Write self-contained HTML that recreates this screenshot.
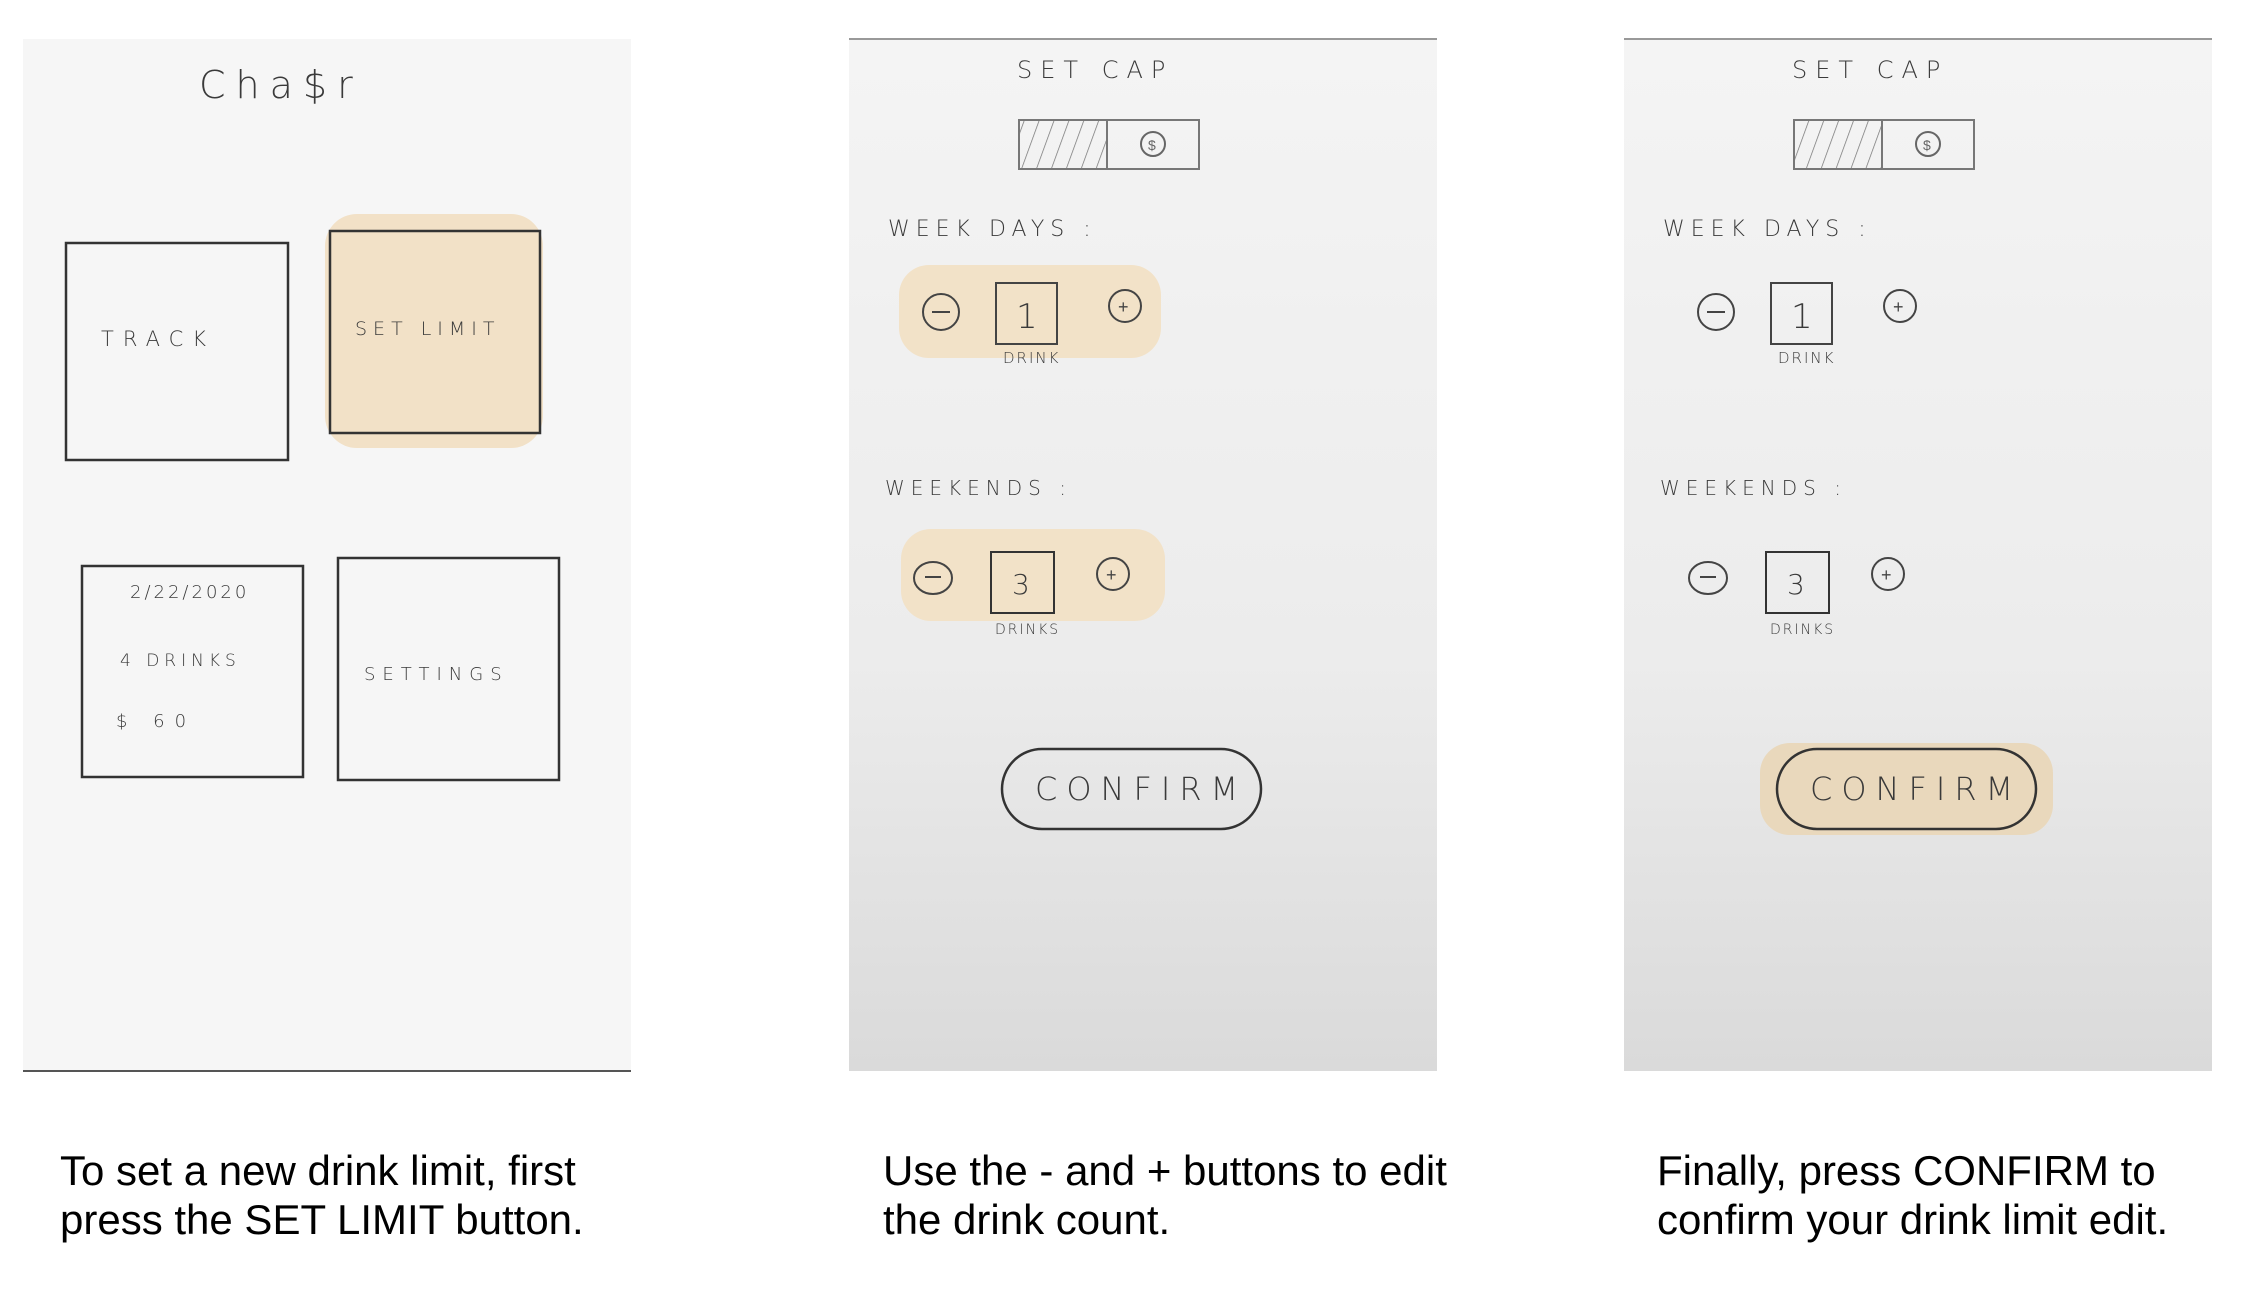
<!DOCTYPE html>
<html><head><meta charset="utf-8"><style>
html,body{margin:0;padding:0;background:#fff;}
body{width:2254px;height:1294px;position:relative;overflow:hidden;font-family:"Liberation Sans",sans-serif;}
svg{position:absolute;left:0;top:0;}
.cap{position:absolute;font-size:42px;line-height:49px;color:#000;white-space:nowrap;}
.hw{font-family:"DejaVu Sans",sans-serif;fill:#3a3a3a;font-weight:300;}
</style></head><body>
<svg width="2254" height="1294" viewBox="0 0 2254 1294">
<defs>
<linearGradient id="pg" x1="0" y1="0" x2="0" y2="1"><stop offset="0" stop-color="#f4f4f4"/><stop offset="0.6" stop-color="#ececec"/><stop offset="1" stop-color="#dadada"/></linearGradient>
<pattern id="hatch" width="14" height="14" patternUnits="userSpaceOnUse" patternTransform="rotate(20)"><line x1="0" y1="0" x2="0" y2="14" stroke="#777" stroke-width="1.5"/></pattern>
</defs>
<g>
<rect x="23" y="39" width="608" height="1032" fill="#f6f6f6"/>
<line x1="23" y1="1071" x2="631" y2="1071" stroke="#555" stroke-width="2"/>
<text class="hw" x="199" y="98" font-size="38" letter-spacing="10">Cha$r</text>
<g><rect x="66" y="243" width="222" height="217" fill="none" stroke="#333" stroke-width="2.5"/>
<text class="hw" x="101" y="346" font-size="21" letter-spacing="9">TRACK</text></g>
<rect x="325" y="214" width="218" height="234" rx="32" fill="#f2e1c7"/>
<g><rect x="330" y="231" width="210" height="202" fill="none" stroke="#333" stroke-width="2.5"/>
<text class="hw" x="355" y="335" font-size="19" letter-spacing="6">SET  LIMIT</text></g>
<g><rect x="82" y="566" width="221" height="211" fill="none" stroke="#333" stroke-width="2.5"/>
<text class="hw" x="130" y="598" font-size="18" letter-spacing="3">2/22/2020</text>
<text class="hw" x="120" y="666" font-size="17" letter-spacing="5">4 DRINKS</text>
<text class="hw" x="116" y="727" font-size="18" letter-spacing="10">$ 60</text></g>
<g><rect x="338" y="558" width="221" height="222" fill="none" stroke="#333" stroke-width="2.5"/>
<text class="hw" x="364" y="680" font-size="18" letter-spacing="7">SETTINGS</text></g>
</g>
<g transform="translate(-5,0)">
<rect x="854" y="39" width="588" height="1032" fill="url(#pg)"/>
<line x1="854" y1="39" x2="1442" y2="39" stroke="#999" stroke-width="2"/>
<text class="hw" x="1022" y="78" font-size="24" letter-spacing="8" fill="#555">SET    CAP</text>
<g><rect x="1024" y="120" width="180" height="49" fill="none" stroke="#777" stroke-width="2"/>
<rect x="1024" y="120" width="88" height="49" fill="url(#hatch)" stroke="#777" stroke-width="2"/>
<circle cx="1158" cy="144" r="12" fill="none" stroke="#666" stroke-width="2"/><text x="1153" y="150" font-size="14" fill="#666">$</text></g>
<text class="hw" x="893" y="236" font-size="22" letter-spacing="6" fill="#555">WEEK DAYS  :</text>
<rect x="904" y="265" width="262" height="93" rx="30" fill="#f2e2c8"/>
<circle cx="946" cy="312" r="18" fill="none" stroke="#444" stroke-width="2"/><line x1="937" y1="312" x2="955" y2="312" stroke="#444" stroke-width="2"/>
<rect x="1001" y="283" width="61" height="61" fill="none" stroke="#444" stroke-width="2"/>
<text class="hw" x="1021" y="328" font-size="34">1</text>
<circle cx="1130" cy="306" r="16" fill="none" stroke="#444" stroke-width="2"/><text x="1123" y="313" font-size="18" fill="#444">+</text>
<text class="hw" x="1008" y="363" font-size="15" letter-spacing="2">DRINK</text>
<text class="hw" x="890" y="495" font-size="20" letter-spacing="6" fill="#444">WEEKENDS  :</text>
<rect x="906" y="529" width="264" height="92" rx="30" fill="#f2e2c8"/>
<ellipse cx="938" cy="578" rx="19" ry="16" fill="none" stroke="#444" stroke-width="2"/><line x1="930" y1="577" x2="946" y2="577" stroke="#444" stroke-width="2"/>
<rect x="996" y="552" width="63" height="61" fill="none" stroke="#333" stroke-width="2"/>
<text class="hw" x="1017" y="594" font-size="28">3</text>
<circle cx="1118" cy="574" r="16" fill="none" stroke="#444" stroke-width="2"/><text x="1111" y="581" font-size="18" fill="#444">+</text>
<text class="hw" x="1000" y="634" font-size="14" letter-spacing="2">DRINKS</text>
<g><rect x="1007" y="749" width="259" height="80" rx="40" fill="none" stroke="#333" stroke-width="2.5"/>
<text class="hw" x="1040" y="800" font-size="32" letter-spacing="9">CONFIRM</text></g>
</g>
<g transform="translate(-10,0)">
<rect x="1634" y="39" width="588" height="1032" fill="url(#pg)"/>
<line x1="1634" y1="39" x2="2222" y2="39" stroke="#999" stroke-width="2"/>
<text class="hw" x="1802" y="78" font-size="24" letter-spacing="8" fill="#555">SET    CAP</text>
<rect x="1804" y="120" width="180" height="49" fill="none" stroke="#777" stroke-width="2"/>
<rect x="1804" y="120" width="88" height="49" fill="url(#hatch)" stroke="#777" stroke-width="2"/>
<circle cx="1938" cy="144" r="12" fill="none" stroke="#666" stroke-width="2"/><text x="1933" y="150" font-size="14" fill="#666">$</text>
<text class="hw" x="1673" y="236" font-size="22" letter-spacing="6" fill="#555">WEEK DAYS  :</text>
<circle cx="1726" cy="312" r="18" fill="none" stroke="#444" stroke-width="2"/><line x1="1717" y1="312" x2="1735" y2="312" stroke="#444" stroke-width="2"/>
<rect x="1781" y="283" width="61" height="61" fill="none" stroke="#444" stroke-width="2"/>
<text class="hw" x="1801" y="328" font-size="34">1</text>
<circle cx="1910" cy="306" r="16" fill="none" stroke="#444" stroke-width="2"/><text x="1903" y="313" font-size="18" fill="#444">+</text>
<text class="hw" x="1788" y="363" font-size="15" letter-spacing="2">DRINK</text>
<text class="hw" x="1670" y="495" font-size="20" letter-spacing="6" fill="#444">WEEKENDS  :</text>
<ellipse cx="1718" cy="578" rx="19" ry="16" fill="none" stroke="#444" stroke-width="2"/><line x1="1710" y1="577" x2="1726" y2="577" stroke="#444" stroke-width="2"/>
<rect x="1776" y="552" width="63" height="61" fill="none" stroke="#333" stroke-width="2"/>
<text class="hw" x="1797" y="594" font-size="28">3</text>
<circle cx="1898" cy="574" r="16" fill="none" stroke="#444" stroke-width="2"/><text x="1891" y="581" font-size="18" fill="#444">+</text>
<text class="hw" x="1780" y="634" font-size="14" letter-spacing="2">DRINKS</text>
<rect x="1770" y="743" width="293" height="92" rx="30" fill="#e9d8bc"/>
<g><rect x="1787" y="749" width="259" height="80" rx="40" fill="none" stroke="#333" stroke-width="2.5"/>
<text class="hw" x="1820" y="800" font-size="32" letter-spacing="9">CONFIRM</text></g>
</g>
</svg>
<div class="cap" style="left:60px;top:1146px;">To set a new drink limit, first<br>press the SET LIMIT button.</div>
<div class="cap" style="left:883px;top:1146px;">Use the - and + buttons to edit<br>the drink count.</div>
<div class="cap" style="left:1657px;top:1146px;">Finally, press CONFIRM to<br>confirm your drink limit edit.</div>
</body></html>
